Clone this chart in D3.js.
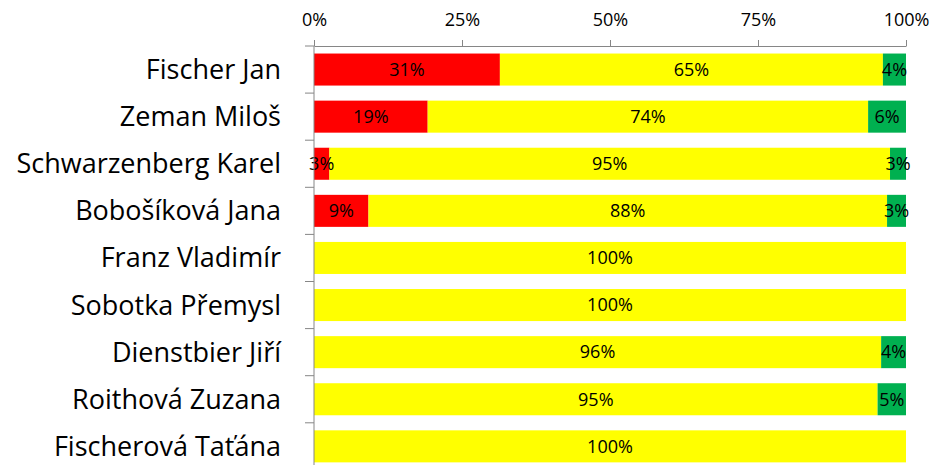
<!DOCTYPE html>
<html>
<head>
<meta charset="utf-8">
<script src="https://cdn.jsdelivr.net/npm/d3@7"></script>
<style>
  body { margin: 0; background: #fff; }
  svg { display: block; }
  text { font-family: 'Open Sans', sans-serif; fill: #000; }
</style>
</head>
<body>
<svg id="chart"></svg>
<script>
const candidates = ['Fischer Jan', 'Zeman Miloš', 'Schwarzenberg Karel', 'Bobošíková Jana',
    'Franz Vladimír', 'Sobotka Přemysl', 'Dienstbier Jiří', 'Roithová Zuzana', 'Fischerová Taťána']
const redShare = [31.4, 19.2, 2.6, 9.2, 0, 0, 0, 0, 0]
const yellowShare = [64.7, 74.4, 94.7, 87.6, 100, 100, 95.8, 95.2, 100]
const greenShare = [3.9, 6.4, 2.7, 3.2, 0, 0, 4.2, 4.8, 0]
const xTicks = [0, 0.25, 0.5, 0.75, 1]

const seriesNames = ['red', 'yellow', 'green']
const colors = { red: '#ff0000', yellow: '#ffff00', green: '#00b050' }

const width = 932
const height = 465
const margin = { top: 46, left: 314, right: 26 }

const rows = candidates.map((name, i) => ({
    name,
    red: redShare[i] / 100,
    yellow: yellowShare[i] / 100,
    green: greenShare[i] / 100
}))

const svg = d3.select('#chart').attr('width', width).attr('height', height)

const x = d3.scaleLinear().domain([0, 1]).range([margin.left, width - margin.right])
const y = d3.scaleBand()
    .domain(candidates)
    .range([margin.top, margin.top + 47.1 * candidates.length])
    .paddingInner(0.32)
    .paddingOuter(0.16)

const stacked = d3.stack().keys(seriesNames)(rows)

const layers = svg.append('g')
    .selectAll('g')
    .data(stacked)
    .join('g')
    .attr('fill', (s) => colors[s.key])

layers.selectAll('rect')
    .data((s) => s)
    .join('rect')
    .attr('x', (d) => x(d[0]))
    .attr('y', (d) => y(d.data.name))
    .attr('width', (d) => x(d[1]) - x(d[0]))
    .attr('height', y.bandwidth())

// data labels
const fmt = d3.format('.0%')
stacked.forEach((s) => {
    svg.append('g')
        .selectAll('text')
        .data(s.filter((d) => d[1] - d[0] > 0))
        .join('text')
        .attr('x', (d) => (x(d[0]) + x(d[1])) / 2)
        .attr('y', (d) => y(d.data.name) + y.bandwidth() / 2)
        .attr('dy', '0.35em')
        .attr('text-anchor', 'middle')
        .style('font-size', '18px')
        .text((d) => fmt(d[1] - d[0]))
})

// top axis
const xAxis = svg.append('g')
    .attr('transform', `translate(0,${margin.top})`)
    .call(d3.axisTop(x).tickValues(xTicks).tickFormat(fmt).tickSize(6).tickSizeOuter(0).tickPadding(14))
xAxis.selectAll('line, path').attr('stroke', '#868686')
xAxis.selectAll('text').style('font-size', '18px').attr('fill', '#000')

// left axis line and band boundary ticks
const step = y.step()
const bounds = d3.range(candidates.length + 1).map((i) => y.range()[0] + i * step)
const yAxis = svg.append('g').attr('stroke', '#868686')
yAxis.append('line')
    .attr('x1', x(0)).attr('x2', x(0))
    .attr('y1', margin.top).attr('y2', height)
yAxis.selectAll('.tick')
    .data(bounds)
    .join('line')
    .attr('x1', x(0) - 9).attr('x2', x(0))
    .attr('y1', (d) => d).attr('y2', (d) => d)

// category labels
svg.append('g')
    .selectAll('text')
    .data(candidates)
    .join('text')
    .attr('x', x(0) - 33)
    .attr('y', (d) => y(d) + y.bandwidth() / 2)
    .attr('dy', '0.35em')
    .attr('text-anchor', 'end')
    .style('font-size', '27px')
    .text((d) => d)
</script>
</body>
</html>
